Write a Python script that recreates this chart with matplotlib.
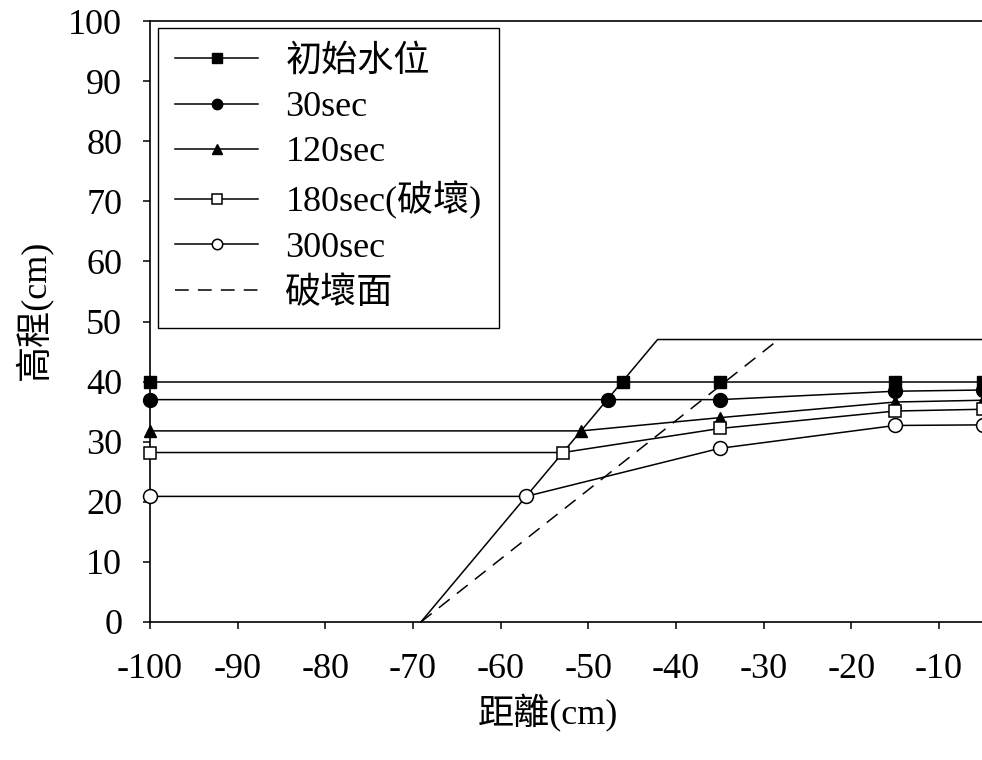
import matplotlib
matplotlib.use("Agg")
import matplotlib.pyplot as plt

plt.rcParams['font.family'] = ['Liberation Serif', 'Noto Sans CJK TC']
plt.rcParams['font.size'] = 26
plt.rcParams['axes.unicode_minus'] = False

# water level series (x = distance cm, y = elevation cm)
x_init = [-100, -46.0, -35, -15, -5]
y_init = [40, 40, 40, 40, 40]
x_30 = [-100, -47.8, -35, -15, -5]
y_30 = [37, 37, 37, 38.4, 38.6]
x_120 = [-100, -50.8, -35, -15, -5]
y_120 = [31.8, 31.8, 34.0, 36.6, 36.9]
x_180 = [-100, -52.9, -35, -15, -5]
y_180 = [28.2, 28.2, 32.2, 35.1, 35.4]
x_300 = [-100, -57.1, -35, -15, -5]
y_300 = [20.9, 20.9, 28.9, 32.7, 32.8]

# slope outline and failure surface
x_slope = [-69.1, -42.1, 0]
y_slope = [0, 47, 47]
x_fail = [-69.1, -28.3]
y_fail = [0, 47]

labels = ['初始水位', '30sec', '120sec', '180sec(破壞)', '300sec', '破壞面']

fig = plt.figure(figsize=(9.82, 7.60), dpi=100)
ax = fig.add_axes([150/982, 138/760, 876.7/982, 601/760])

kw = dict(color='black', lw=1.1, clip_on=False, zorder=3)
ax.plot(x_slope, y_slope, **kw)
h1, = ax.plot(x_init, y_init, marker='s', ms=9, mfc='black', mec='black', label=labels[0], **kw)
h2, = ax.plot(x_30, y_30, marker='o', ms=10, mfc='black', mec='black', label=labels[1], **kw)
h3, = ax.plot(x_120, y_120, marker='^', ms=9, mfc='black', mec='black', label=labels[2], **kw)
h4, = ax.plot(x_180, y_180, marker='s', ms=9, mfc='white', mec='black', mew=1.1, label=labels[3], **kw)
h5, = ax.plot(x_300, y_300, marker='o', ms=10, mfc='white', mec='black', mew=1.1, label=labels[4], **kw)
h6, = ax.plot(x_fail, y_fail, ls=(0, (9, 6)), label=labels[5], **kw)

ax.set_xlim(-100, 0)
ax.set_ylim(0, 100)
ax.set_xticks(range(-100, 0, 10))
ax.set_yticks(range(0, 101, 10))
ax.tick_params(direction='out', length=5, width=1.1, labelsize=26)
ax.tick_params(axis='y', pad=15)
ax.tick_params(axis='x', pad=17)
for s in ax.spines.values():
    s.set_linewidth(1.2)

ax.set_xlabel('距離(cm)', fontsize=26)
ax.set_ylabel('高程(cm)', fontsize=26)
ax.xaxis.set_label_coords(0.454, -0.12)
ax.yaxis.set_label_coords(-0.112, 0.52)

leg = ax.legend(handles=[h1, h2, h3, h4, h5, h6], loc='upper left',
                bbox_to_anchor=(8/876.7, 1 - 7/601), borderaxespad=0,
                fancybox=False, edgecolor='black', framealpha=1,
                handlelength=2.3, handletextpad=0.75, labelspacing=0.33,
                markerscale=0.75, fontsize=26, borderpad=0.48)
leg.get_frame().set_linewidth(1.0)

fig.savefig('out.png', dpi=100)
